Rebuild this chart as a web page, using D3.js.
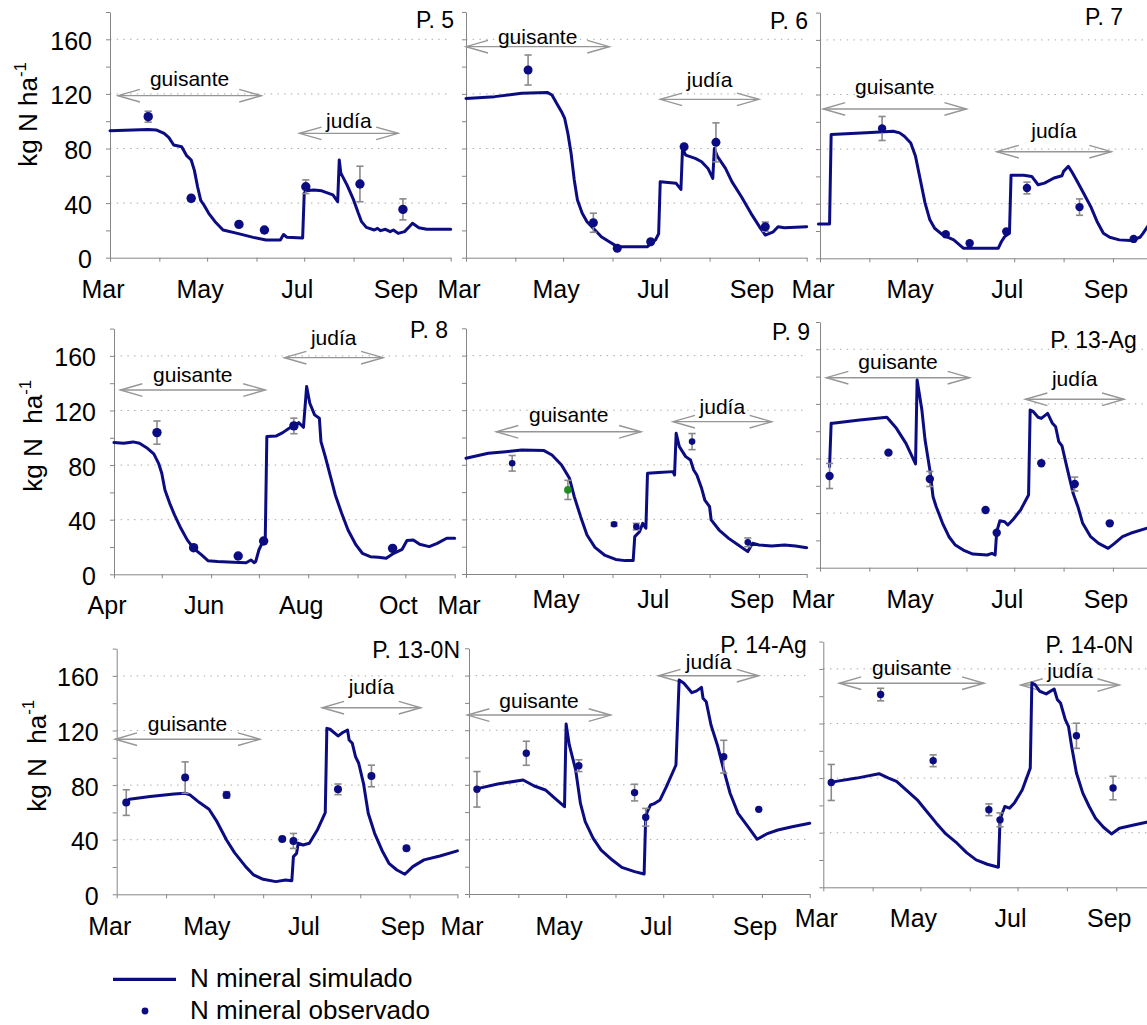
<!DOCTYPE html>
<html>
<head>
<meta charset="utf-8">
<script src="https://cdn.jsdelivr.net/npm/d3@7"></script>
<style>
  html, body { margin: 0; padding: 0; background: #fff; }
  svg { display: block; font-family: "Liberation Sans", Arial, Helvetica, sans-serif; }
</style>
</head>
<body>
<svg id="chart" width="1147" height="1025"></svg>
<script>
// ---- Data: day of year (DOY), kg N ha-1 ----
// Simulated mineral N: [doy, value]
const simP5 = [[60,93],[84,94],[89,93.6],[94,91],[97,88],[100,82.6],[105,81.3],[108,75],[111,71.6],[113,64],[115,52],[117,42],[119,38.6],[122,32.5],[126,26.4],[131,20.3],[140,17.8],[150,14.9],[158,13],[167,13],[169,17],[171,15],[181,14.4],[182,47.2],[183,49],[188,49.6],[193,49],[200,46],[203,41],[204,71.6],[205,62],[209,53],[213,42.3],[216,32.5],[218,26.4],[221,22.2],[226,20.3],[228,21.5],[230,19.8],[233,20.8],[236,19.1],[238,20.3],[241,17.8],[245,19.1],[248,22.7],[250,25.2],[254,22],[259,20.8],[274,20.8]];
const simP6 = [[60,116.7],[78,118],[95,120.4],[111,121.1],[114,119.2],[117,113],[120,107],[122,102],[124,91],[126,76.5],[128,57],[130,42.3],[133,32.5],[136,26.4],[141,20.3],[145,15.4],[150,11.7],[155,8.1],[174,8.1],[179,13],[181,17.5],[182,55.7],[192,54.5],[195,50],[196,80],[198,75.2],[204,72.8],[208,70.3],[212,65.4],[215,58.1],[216,80],[218,74],[223,65.4],[227,55.7],[233,44.7],[239,32.5],[245,21.5],[248,16.6],[253,19],[256,22.7],[260,22],[274,22.7]];
const simP7 = [[59,25.2],[66,25.2],[67,90.7],[89,91.9],[106,93.1],[110,91.9],[113,89.4],[117,84.5],[120,74.7],[123,57.6],[126,40.4],[129,28.2],[132,22],[137,17.2],[144,13.5],[150,7.4],[172,7.4],[174,12.3],[176,15.9],[179,18.4],[180,60.8],[188,60.8],[193,60],[197,53.9],[201,55.1],[207,58.8],[212,60.5],[213,63.7],[216,67.4],[218,63.7],[221,57.6],[225,49],[230,38],[234,27],[238,18.4],[242,15.4],[248,13.5],[255,13],[261,15.4],[263,18.4],[265,22],[268,27]];
const simP8 = [[91,96.5],[97,96],[103,97],[107,96],[112,92.3],[116,88.2],[119,81.3],[121,74],[123,61.8],[126,52],[129,43.5],[133,33.7],[137,25.2],[141,19],[146,14.2],[150,10],[156,9.3],[166,8.8],[174,8.5],[177,10.5],[179,8.5],[180,9.3],[182,17.8],[185,25.2],[186,25.5],[187,100.9],[193,101.4],[197,103.8],[201,107],[205,109.4],[207,111.1],[210,107.7],[212,137.5],[214,125.3],[217,116.8],[220,114.3],[221,97.2],[224,85],[227,71.6],[230,58.1],[234,44.7],[238,32.5],[243,21.5],[247,15.4],[252,12.9],[257,12.5],[262,11.7],[266,14.9],[272,18.3],[275,24.7],[279,25.2],[283,22],[289,20.3],[294,22.7],[300,26.4],[305,26.4]];
const simP9 = [[60,84.8],[74,88.4],[85,89.6],[95,90.9],[109,90.4],[114,87.2],[120,79.9],[125,70.1],[128,56.7],[132,42],[136,28.6],[141,19.5],[147,13.9],[154,10.7],[160,9.8],[165,9.8],[166,27.4],[169,31],[171,37.1],[173,33.5],[174,73.8],[181,74.3],[190,75],[191,72.5],[192,103.1],[194,93.3],[198,86],[201,83.5],[203,76.2],[205,72.5],[208,62.8],[210,54.2],[213,49.3],[214,39.6],[219,32.2],[225,26.1],[231,21.3],[237,16.4],[240,22.5],[244,21.3],[252,20.5],[260,21.3],[267,20.5],[274,19.3]];
const simP13Ag = [[66,74],[67,105.8],[68,105.8],[85,108.2],[102,110.2],[108,102.1],[114,91.1],[120,76],[121,137.5],[124,115.5],[126,93.5],[129,71.6],[131,52],[133,44.7],[137,32.5],[141,22.7],[145,16.6],[150,12.9],[156,10],[165,9.3],[168,10.5],[170,9.3],[171,26.4],[173,34.4],[176,33.7],[178,31.3],[181,34.9],[186,42.3],[191,53.2],[192,115.5],[194,114.3],[197,110.2],[199,109.4],[203,113.1],[206,105.8],[208,103.3],[210,92.3],[212,89.2],[215,74],[219,54.5],[222,44.7],[225,32.5],[230,22.7],[235,17.8],[241,14.2],[245,17.8],[250,22.7],[255,25.2],[265,28.8],[270,30]];
const simP13_0N = [[66,67.9],[68,69.6],[81,71.6],[96,73.5],[103,74],[106,72.8],[112,67.2],[118,62.3],[123,53.2],[129,39.8],[134,30.5],[141,20.3],[146,14.2],[152,11],[160,9.3],[166,10.5],[170,10],[171,27.6],[173,30],[174,37.4],[177,36.1],[181,37.4],[186,47.1],[191,59.8],[192,121.6],[194,120.9],[199,116],[202,118.5],[205,120.4],[206,113.1],[208,110.6],[210,100.9],[212,96],[215,81.3],[218,59.4],[222,44.7],[227,31.3],[231,22.7],[236,17.8],[241,14.7],[246,20.3],[253,25.2],[263,28.1],[274,31.8]];
const simP14Ag = [[65,76.7],[66,77.4],[78,80.6],[94,83.5],[101,79.1],[108,76.2],[114,70.1],[120,64],[121,124.6],[123,109.2],[127,90.9],[130,66.4],[133,53],[138,40.8],[143,32.2],[150,24.9],[156,19.5],[164,16.4],[170,14.7],[171,56.7],[172,60.3],[174,65.2],[176,66],[180,68.9],[184,78.7],[190,94.5],[192,156.8],[195,154.4],[200,147.5],[203,148.8],[206,151.4],[207,143.4],[209,140.9],[212,123.8],[216,109.2],[220,90.9],[224,73.8],[229,59.1],[236,48.1],[241,40.1],[247,44],[254,46.9],[263,49.3],[274,51.8]];
const simP14_0N = [[65,76.3],[68,77.6],[81,80],[95,83.2],[101,80],[106,77.6],[112,71.4],[119,64.1],[125,55.5],[131,47],[137,39.1],[144,32.3],[150,25.4],[156,20.1],[163,16.9],[170,14.7],[171,49.4],[172,53.1],[174,59.2],[177,58],[180,61.7],[185,71.4],[190,87.3],[191,149.7],[193,148.5],[196,143.6],[200,141.7],[205,145.3],[207,137.5],[209,135],[212,122.8],[214,117.9],[216,103.2],[219,83.7],[223,69],[227,59.2],[231,50.6],[236,44],[241,39.1],[246,43.3],[255,45.7],[263,47.7],[270,49]];

// Observed mineral N: [doy, mean, error]
const obsP5 = [[84,103.3,4],[111,43.5,2],[141,24.4,0],[157,20.3,0],[183,52,5],[217,54,13],[244,35.4,7.7]];
const obsP6 = [[99,137.5,11],[140,25.6,7],[155,6.9,0],[176,11.7,0],[197,81.3,0],[217,84.5,14.3],[248,22.7,3.4]];
const obsP7 = [[99,95.1,8.8],[139,17.6,0],[154,11,0],[177,19.6,0],[190,51.5,4.3],[223,37.5,6],[257,14.2,0]];
const obsP8 = [[118,103.8,8.5],[141,19.5,0],[169,13.4,0],[185,24.4,0],[204,108.7,5.7],[266,19,0]];
const obsP9 = [[89,81.1,5.7],[153,36.4,1.2],[167,34.7,2.4],[202,97,5.9],[237,23.2,3.2]];
const obsP9Green = [[124,61.6,7]];
const obsP13Ag = [[66,67.2,9.2],[103,84.3,0],[129,65,5.5],[164,42.3,0],[171,25.6,0],[199,76.5,0],[220,61.3,5.1],[242,32.5,0]];
const obsP13_0N = [[66,67.2,9.4],[103,85.5,11.5],[129,72.8,2.4],[164,40.5,0],[171,39.1,5.5],[199,76.9,3.9],[220,86.7,7.9],[242,33.7,0]];
const obsP14Ag = [[65,76.7,13],[96,103.1,8.8],[129,94,4.3],[164,74.3,6.1],[171,56.2,6.5],[220,100.6,12],[242,62,0]];
const obsP14_0N = [[65,76.8,13.2],[96,141.2,4.6],[129,92.7,4.3],[164,56.8,4.3],[171,49.4,5.1],[219,111,9.2],[242,72.7,8.6]];

// Crop periods (doy range) with the level of the arrow and of its label
const cropsP5 = [{name:"guisante",from:65,to:155,at:118.7,label:125.8},{name:"judía",from:179,to:241,at:91.1,label:94.8}];
const cropsP6 = [{name:"guisante",from:60,to:150,at:154.6,label:156.3},{name:"judía",from:182,to:244,at:116,label:124.8}];
const cropsP7 = [{name:"guisante",from:62,to:152,at:109.4,label:120.4},{name:"judía",from:171,to:243,at:78.1,label:87.9}];
const cropsP8 = [{name:"guisante",from:95,to:186,at:135,label:141.1},{name:"judía",from:198,to:260,at:158.7,label:168}];
const cropsP9 = [{name:"guisante",from:79,to:170,at:104.2,label:111.6},{name:"judía",from:190,to:252,at:111.6,label:117.2}];
const cropsP13Ag = [{name:"guisante",from:64,to:154,at:139.2,label:145.6},{name:"judía",from:189,to:251,at:123.4,label:133.1}];
const cropsP13_0N = [{name:"guisante",from:59,to:150,at:113.6,label:119.9},{name:"judía",from:189,to:251,at:136.7,label:146.5}];
const cropsP14Ag = [{name:"guisante",from:59,to:149,at:131.1,label:136},{name:"judía",from:179,to:242,at:159.9,label:164.6}];
const cropsP14_0N = [{name:"guisante",from:70,to:161,at:149.5,label:155.5},{name:"judía",from:184,to:246,at:148.2,label:153.1}];

const yTickValues = [0,20,40,60,80,100,120,140,160,180];
const yLabelValues = [0,40,80,120,160];
const gridValues = [40,80,120,160];
const legendLabels = ["N mineral simulado", "N mineral observado"];

// ---- Layout ----
const W = 340.7, H = 245.7;
const panels = [
  {title:"P. 5",     month0:2, sim:simP5,     obs:obsP5,     crops:cropsP5,     x0:110,   y0:257.7, tx:454,   ty:28.2,  labelDy:40, r:4.7, yLabels:true,  yTitle:"kg N ha",          yTitleX:37,  yTitleY:166.7},
  {title:"P. 6",     month0:2, sim:simP6,     obs:obsP6,     crops:cropsP6,     x0:466,   y0:257.7, tx:808,   ty:28.5,  labelDy:40, r:4.5},
  {title:"P. 7",     month0:2, sim:simP7,     obs:obsP7,     crops:cropsP7,     x0:820,   y0:258.3, tx:1123,  ty:24.8,  labelDy:40, r:4.2},
  {title:"P. 8",     month0:3, sim:simP8,     obs:obsP8,     crops:cropsP8,     x0:114,   y0:574.3, tx:448,   ty:338.2, labelDy:40, r:4.7, yLabels:true,  yTitle:"kg N\u00a0\u00a0ha", yTitleX:42.3, yTitleY:491.7},
  {title:"P. 9",     month0:2, sim:simP9,     obs:obsP9,     crops:cropsP9,     x0:466,   y0:574,   tx:810,   ty:339.5, labelDy:34, firstLabelDy:40, r:3.3, extra:obsP9Green},
  {title:"P. 13-Ag", month0:2, sim:simP13Ag,  obs:obsP13Ag,  crops:cropsP13Ag,  x0:820,   y0:567.7, tx:1136.7,ty:348.2, labelDy:40, r:4.2},
  {title:"P. 13-0N", month0:2, sim:simP13_0N, obs:obsP13_0N, crops:cropsP13_0N, x0:116.7, y0:894.3, tx:460,   ty:658.2, labelDy:40.7, r:4, yLabels:true, yTitle:"kg N\u00a0\u00a0ha", yTitleX:45.7, yTitleY:811.7},
  {title:"P. 14-Ag", month0:2, sim:simP14Ag,  obs:obsP14Ag,  crops:cropsP14Ag,  x0:469,   y0:894,   tx:806.7, ty:652.5, labelDy:41, r:3.7},
  {title:"P. 14-0N", month0:2, sim:simP14_0N, obs:obsP14_0N, crops:cropsP14_0N, x0:823.3, y0:887.3, tx:1133.3,ty:653.2, labelDy:40, r:3.7}
];

const LINE = "#0c0c82", AXIS = "#868686", GRID = "#a6a6a6", BAR = "#8a8a8a", ARROW = "#969696", GREEN = "#1f8f1f";
const YEAR = 2005;
const doyDate = d => new Date(YEAR, 0, d);
const fmtMonth = d3.timeFormat("%b");

const svg = d3.select("#chart");

panels.forEach(p => {
  const start = new Date(YEAR, p.month0, 1);
  const end = new Date(YEAR, p.month0 + 7, 1);
  const x = d3.scaleTime().domain([start, end]).range([p.x0, p.x0 + W]);
  const y = d3.scaleLinear().domain([0, 180]).range([p.y0, p.y0 - H]);
  const g = svg.append("g").attr("class", "panel");

  // dotted horizontal gridlines
  g.append("g").selectAll("line").data(gridValues).join("line")
    .attr("x1", p.x0).attr("x2", p.x0 + W)
    .attr("y1", d => y(d)).attr("y2", d => y(d))
    .attr("stroke", GRID).attr("stroke-width", 1)
    .attr("stroke-dasharray", "1.4 5.3");

  // x axis: monthly ticks, labels every second month
  const months = d3.timeMonth.range(start, d3.timeDay.offset(end, 1));
  const xAxis = g.append("g").attr("transform", `translate(0,${p.y0})`)
    .call(d3.axisBottom(x).tickValues(months).tickSize(4).tickSizeOuter(0)
      .tickFormat((d, i) => (i % 2 === 0 && i < 7) ? fmtMonth(d) : ""));
  xAxis.select(".domain").attr("stroke", AXIS);
  xAxis.selectAll(".tick line").attr("stroke", AXIS);
  xAxis.selectAll(".tick text")
    .attr("font-family", null).attr("font-size", 25).attr("fill", "#000")
    .attr("dx", -7.5).attr("dy", 0)
    .attr("y", (d, i) => (i === 0 && p.firstLabelDy) ? p.firstLabelDy : p.labelDy);
  xAxis.attr("font-family", null).attr("font-size", 25);

  // y axis
  const yAxis = g.append("g").attr("transform", `translate(${p.x0},0)`)
    .call(d3.axisLeft(y).tickValues(yTickValues).tickSize(4).tickSizeOuter(0).tickPadding(14)
      .tickFormat(d => (p.yLabels && yLabelValues.includes(d)) ? d : ""));
  yAxis.select(".domain").attr("stroke", AXIS);
  yAxis.selectAll(".tick line").attr("stroke", AXIS);
  yAxis.selectAll(".tick text").attr("font-size", 25).attr("fill", "#000").attr("dy", "0.4em");
  yAxis.attr("font-family", null).attr("font-size", 25);

  // crop period arrows
  p.crops.forEach(c => {
    const xa = x(doyDate(c.from)), xb = x(doyDate(c.to)), ya = y(c.at);
    const ag = g.append("g").attr("stroke", ARROW).attr("stroke-width", 1.4).attr("fill", "none");
    ag.append("line").attr("x1", xa).attr("x2", xb).attr("y1", ya).attr("y2", ya);
    ag.append("path").attr("d", `M${xa + 22},${ya - 6.3}L${xa},${ya}L${xa + 22},${ya + 6.3}`);
    ag.append("path").attr("d", `M${xb - 22},${ya - 6.3}L${xb},${ya}L${xb - 22},${ya + 6.3}`);
    g.append("text").attr("x", (xa + xb) / 2).attr("y", y(c.label))
      .attr("text-anchor", "middle").attr("font-size", 21).attr("fill", "#000")
      .text(c.name);
  });

  // simulated line
  const line = d3.line().x(d => x(doyDate(d[0]))).y(d => y(d[1]));
  g.append("path").datum(p.sim).attr("d", line)
    .attr("fill", "none").attr("stroke", LINE).attr("stroke-width", 3)
    .attr("stroke-linejoin", "round").attr("stroke-linecap", "round");

  // observations with error bars
  const drawObs = (data, color, r) => {
    const withErr = data.filter(d => d[2] > 0);
    const eb = g.append("g").attr("stroke", BAR).attr("stroke-width", 1.6);
    eb.selectAll("line.v").data(withErr).join("line").attr("class", "v")
      .attr("x1", d => x(doyDate(d[0]))).attr("x2", d => x(doyDate(d[0])))
      .attr("y1", d => y(d[1] - d[2])).attr("y2", d => y(d[1] + d[2]));
    eb.selectAll("line.t").data(withErr).join("line").attr("class", "t")
      .attr("x1", d => x(doyDate(d[0])) - 3.6).attr("x2", d => x(doyDate(d[0])) + 3.6)
      .attr("y1", d => y(d[1] + d[2])).attr("y2", d => y(d[1] + d[2]));
    eb.selectAll("line.b").data(withErr).join("line").attr("class", "b")
      .attr("x1", d => x(doyDate(d[0])) - 3.6).attr("x2", d => x(doyDate(d[0])) + 3.6)
      .attr("y1", d => y(d[1] - d[2])).attr("y2", d => y(d[1] - d[2]));
    g.append("g").selectAll("circle").data(data).join("circle")
      .attr("cx", d => x(doyDate(d[0]))).attr("cy", d => y(d[1]))
      .attr("r", r).attr("fill", color);
  };
  drawObs(p.obs, LINE, p.r);
  if (p.extra) drawObs(p.extra, GREEN, p.r + 0.5);

  // panel title
  g.append("text").attr("x", p.tx).attr("y", p.ty).attr("text-anchor", "end")
    .attr("font-size", 23).attr("fill", "#000").text(p.title);

  // y axis title
  if (p.yTitle) {
    const t = svg.append("text")
      .attr("transform", `translate(${p.yTitleX},${p.yTitleY}) rotate(-90)`)
      .attr("font-size", 26).attr("fill", "#000");
    t.append("tspan").text(p.yTitle);
    t.append("tspan").attr("font-size", 17).attr("dy", -11.5).text("-1");
  }
});

// legend
const lg = svg.append("g");
lg.append("line").attr("x1", 113).attr("x2", 176).attr("y1", 979.3).attr("y2", 979.3)
  .attr("stroke", LINE).attr("stroke-width", 3.2);
lg.append("text").attr("x", 190).attr("y", 986.7).attr("font-size", 26).attr("fill", "#000").text(legendLabels[0]);
lg.append("circle").attr("cx", 145).attr("cy", 1011).attr("r", 3.4).attr("fill", LINE);
lg.append("text").attr("x", 190).attr("y", 1019).attr("font-size", 26).attr("fill", "#000").text(legendLabels[1]);
</script>
</body>
</html>
